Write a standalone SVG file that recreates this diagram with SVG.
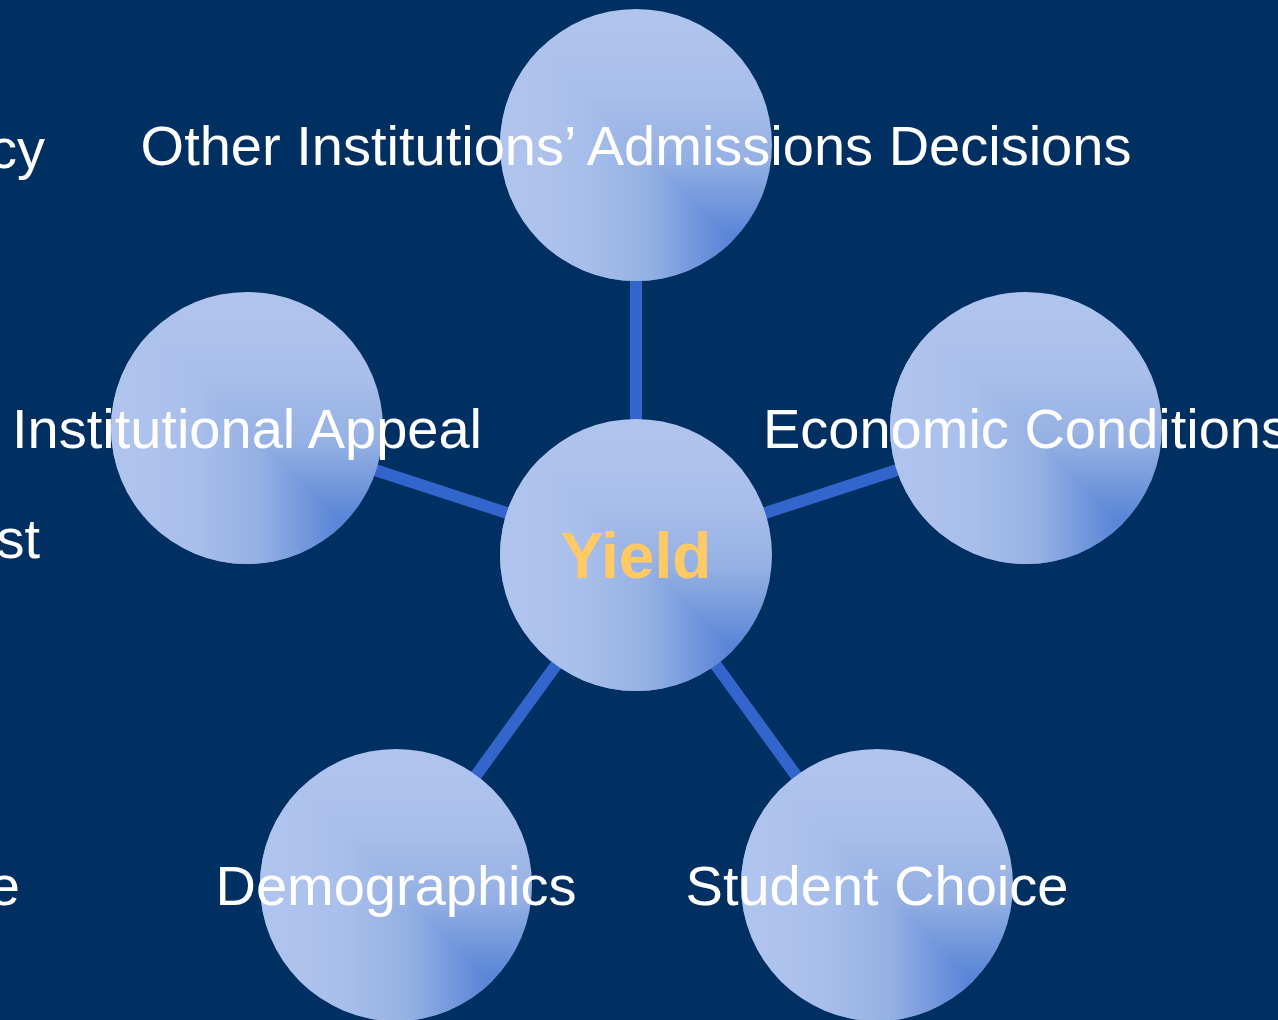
<svg xmlns="http://www.w3.org/2000/svg" width="1278" height="1020" viewBox="0 0 1278 1020">
<style>
.bg{fill:#002f62}
.edge{stroke:#3366cc;stroke-width:12;fill:none}
.nv{fill:url(#gv)}
.nh{fill:url(#gh);clip-path:url(#lower)}
.lbl{font-family:"Liberation Sans",Arial,sans-serif;font-size:56px;fill:#ffffff;text-anchor:middle}
.edgetxt{font-family:"Liberation Sans",Arial,sans-serif;font-size:56px;fill:#ffffff;text-anchor:end}
.center{font-family:"Liberation Sans",Arial,sans-serif;font-size:64px;font-weight:bold;fill:#ffc966;text-anchor:middle}
</style>
<defs>
<linearGradient id="gv" x1="0" y1="0" x2="0" y2="1">
<stop offset="0" stop-color="#b0c4ee"/>
<stop offset="0.3" stop-color="#a9bfeb"/>
<stop offset="0.55" stop-color="#95b0e3"/>
<stop offset="0.84" stop-color="#5885d7"/>
<stop offset="1" stop-color="#6a92da"/>
</linearGradient>
<linearGradient id="gh" x1="0" y1="0" x2="1" y2="0">
<stop offset="0" stop-color="#b0c4ee"/>
<stop offset="0.3" stop-color="#a9bfeb"/>
<stop offset="0.55" stop-color="#95b0e3"/>
<stop offset="0.84" stop-color="#5885d7"/>
<stop offset="1" stop-color="#6a92da"/>
</linearGradient>
<clipPath id="lower" clipPathUnits="objectBoundingBox">
<polygon points="0,0 1,1 0,1"/>
</clipPath>
</defs>
<rect class="bg" x="0" y="0" width="1278" height="1020"/>
<g id="partial-labels">
<text class="edgetxt" x="45" y="168">cy</text>
<text class="edgetxt" x="40" y="558">st</text>
<text class="edgetxt" x="20" y="905">e</text>
</g>
<g id="connectors">
<line class="edge" x1="636" y1="555" x2="636" y2="145"/>
<line class="edge" x1="636" y1="555" x2="1026" y2="428"/>
<line class="edge" x1="636" y1="555" x2="877" y2="887"/>
<line class="edge" x1="636" y1="555" x2="395" y2="887"/>
<line class="edge" x1="636" y1="555" x2="246" y2="428"/>
</g>
<g id="node-top">
<circle class="nv" cx="636" cy="145" r="136"/>
<circle class="nh" cx="636" cy="145" r="136"/>
<text class="lbl" x="636" y="165">Other Institutions’ Admissions Decisions</text>
</g>
<g id="node-right">
<circle class="nv" cx="1026" cy="428" r="136"/>
<circle class="nh" cx="1026" cy="428" r="136"/>
<text class="lbl" x="1026" y="448">Economic Conditions</text>
</g>
<g id="node-bottom-right">
<circle class="nv" cx="877" cy="885" r="136"/>
<circle class="nh" cx="877" cy="885" r="136"/>
<text class="lbl" x="877" y="905">Student Choice</text>
</g>
<g id="node-bottom-left">
<circle class="nv" cx="396" cy="885" r="136"/>
<circle class="nh" cx="396" cy="885" r="136"/>
<text class="lbl" x="396" y="905">Demographics</text>
</g>
<g id="node-left">
<circle class="nv" cx="247" cy="428" r="136"/>
<circle class="nh" cx="247" cy="428" r="136"/>
<text class="lbl" x="247" y="448">Institutional Appeal</text>
</g>
<g id="node-center">
<circle class="nv" cx="636" cy="555" r="136"/>
<circle class="nh" cx="636" cy="555" r="136"/>
<text class="center" x="636" y="578">Yield</text>
</g>
</svg>
